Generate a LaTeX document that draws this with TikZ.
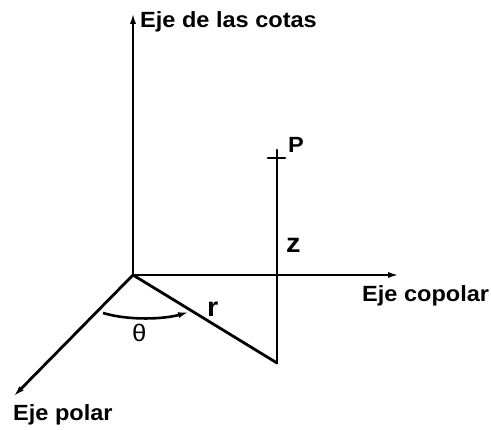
\documentclass[tikz,border=0pt]{standalone}
\usepackage{fontspec}
\setmainfont{Liberation Sans}
\newfontfamily\labfont{Liberation Sans}[FakeStretch=1.07]
\usetikzlibrary{arrows.meta}
\begin{document}
\begin{tikzpicture}[x=1pt,y=-1pt,
  axis/.style={line width=2.8pt,line cap=round},
  tip/.style={-{Latex[length=12pt,width=6pt]}},
  lab/.style={inner sep=0pt,anchor=base west,font=\labfont\bfseries\fontsize{22}{26}\selectfont},
  sym/.style={inner sep=0pt,anchor=base west,font=\labfont\bfseries\fontsize{27}{30}\selectfont}]
\useasboundingbox (0,0) rectangle (491,430);
% points
\coordinate (O) at (133,275);
\coordinate (T) at (133,12);
\coordinate (C) at (400,275);
\coordinate (L) at (13,397);
\coordinate (P) at (277,158);
\coordinate (Ptop) at (277,150);
\coordinate (Pl) at (268,158);
\coordinate (Pr) at (285,158);
\coordinate (Q) at (277,363);
\coordinate (A1) at (103,313);
\coordinate (A2) at (189,312);
% axes
\draw[axis,tip] (O) -- (T);
\draw[axis,tip] (O) -- (C);
\draw[axis,tip] (O) -- (L);
% point P construction
\draw[axis] (Ptop) -- (Q);
\draw[axis] (Pl) -- (Pr);
\draw[axis] (O) -- (Q);
% angle
\draw[line width=2.6pt,-{Latex[length=11pt,width=6pt]}] (A1) .. controls (130,321) and (165,319) .. (A2);
% labels
\node[lab] (lz) at (140,28) {Eje de las cotas};
\node[lab] (lc) at (362,302) {Eje copolar};
\node[lab] (lp) at (13,421) {Eje polar};
\node[lab] (lP) at (288,153) {P};
\node[sym] (lzz) at (286,253) {z};
\node[sym] (lr) at (207,317) {r};
\node[inner sep=0pt,anchor=base west,font=\labfont\fontsize{24}{26}\selectfont] (lt) at (132,342) {θ};
\end{tikzpicture}
\end{document}
